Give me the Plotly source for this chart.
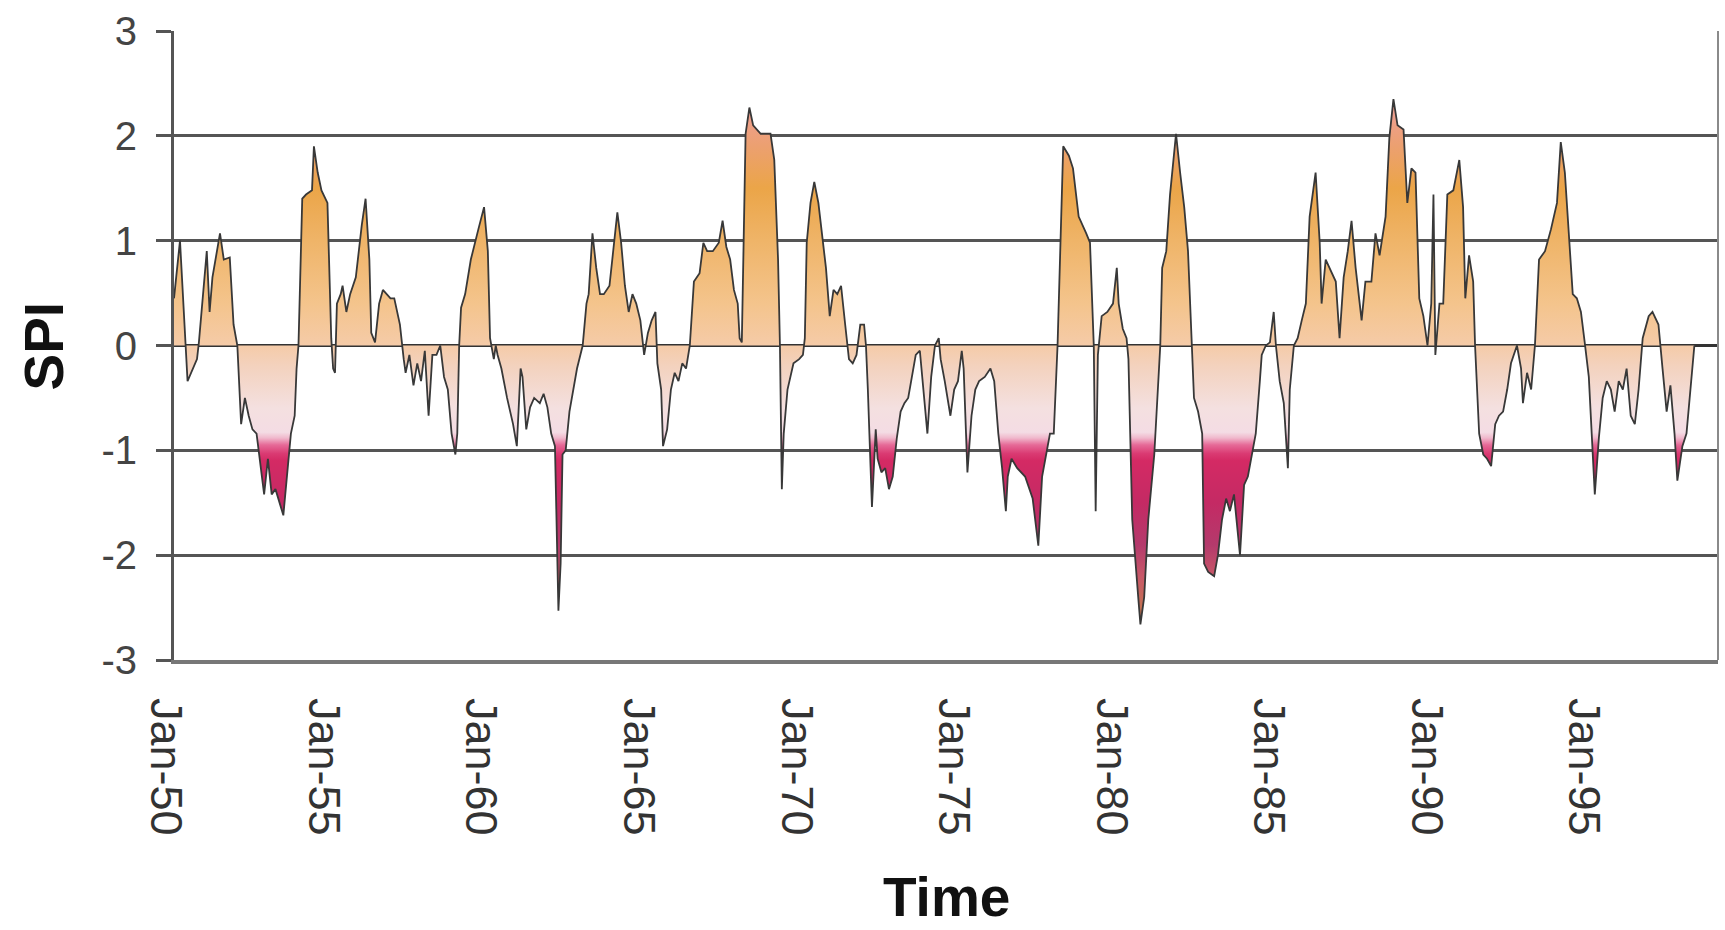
import plotly.graph_objects as go

# Time (decimal years) and SPI values
years = [
    1950.00, 1950.19, 1950.43, 1950.55, 1950.73, 1950.79, 1951.04, 1951.13, 1951.22, 1951.46,
    1951.58, 1951.77, 1951.89, 1952.01, 1952.07, 1952.13, 1952.25, 1952.37, 1952.49, 1952.62,
    1952.86, 1952.98, 1953.10, 1953.22, 1953.47, 1953.59, 1953.71, 1953.83, 1953.89, 1953.95,
    1954.07, 1954.19, 1954.38, 1954.44, 1954.56, 1954.68, 1954.87, 1954.99, 1955.05, 1955.11,
    1955.17, 1955.29, 1955.35, 1955.47, 1955.59, 1955.77, 1955.96, 1956.08, 1956.20, 1956.26,
    1956.38, 1956.51, 1956.63, 1956.75, 1956.87, 1956.99, 1957.17, 1957.29, 1957.35, 1957.47,
    1957.60, 1957.72, 1957.84, 1957.96, 1958.08, 1958.20, 1958.33, 1958.45, 1958.57, 1958.69,
    1958.81, 1958.93, 1958.99, 1959.05, 1959.11, 1959.24, 1959.42, 1959.66, 1959.84, 1959.96,
    1960.03, 1960.15, 1960.21, 1960.27, 1960.39, 1960.57, 1960.76, 1960.88, 1961.00, 1961.06,
    1961.18, 1961.30, 1961.43, 1961.61, 1961.73, 1961.85, 1961.97, 1962.09, 1962.14, 1962.20,
    1962.27, 1962.33, 1962.43, 1962.55, 1962.79, 1962.97, 1963.09, 1963.16, 1963.28, 1963.40,
    1963.52, 1963.64, 1963.82, 1964.07, 1964.19, 1964.31, 1964.43, 1964.55, 1964.67, 1964.80,
    1964.92, 1965.04, 1965.16, 1965.28, 1965.34, 1965.46, 1965.52, 1965.65, 1965.77, 1965.89,
    1966.01, 1966.13, 1966.25, 1966.37, 1966.50, 1966.68, 1966.80, 1966.92, 1967.10, 1967.29,
    1967.41, 1967.53, 1967.65, 1967.77, 1967.89, 1967.95, 1968.02, 1968.14, 1968.26, 1968.38,
    1968.50, 1968.62, 1968.93, 1969.05, 1969.17, 1969.23, 1969.29, 1969.35, 1969.47, 1969.66,
    1969.84, 1969.96, 1970.02, 1970.08, 1970.20, 1970.32, 1970.45, 1970.57, 1970.69, 1970.81,
    1970.93, 1971.05, 1971.17, 1971.30, 1971.42, 1971.54, 1971.66, 1971.78, 1971.90, 1971.96,
    1972.02, 1972.15, 1972.27, 1972.33, 1972.45, 1972.57, 1972.69, 1972.81, 1972.94, 1973.06,
    1973.18, 1973.30, 1973.42, 1973.54, 1973.67, 1973.79, 1973.91, 1974.03, 1974.15, 1974.27,
    1974.33, 1974.46, 1974.64, 1974.76, 1974.88, 1975.00, 1975.06, 1975.18, 1975.31, 1975.43,
    1975.55, 1975.73, 1975.91, 1976.03, 1976.16, 1976.28, 1976.40, 1976.46, 1976.58, 1976.76,
    1977.01, 1977.25, 1977.43, 1977.55, 1977.67, 1977.80, 1977.92, 1978.04, 1978.22, 1978.40,
    1978.53, 1978.71, 1978.95, 1979.07, 1979.19, 1979.25, 1979.32, 1979.44, 1979.62, 1979.80,
    1979.92, 1979.98, 1980.11, 1980.23, 1980.29, 1980.35, 1980.41, 1980.60, 1980.67, 1980.79,
    1980.92, 1981.11, 1981.23, 1981.30, 1981.36, 1981.49, 1981.61, 1981.80, 1981.93, 1982.06,
    1982.18, 1982.31, 1982.37, 1982.50, 1982.63, 1982.69, 1982.82, 1983.01, 1983.13, 1983.26,
    1983.39, 1983.51, 1983.64, 1983.83, 1983.96, 1984.08, 1984.21, 1984.33, 1984.46, 1984.52,
    1984.65, 1984.78, 1984.90, 1984.97, 1985.09, 1985.22, 1985.35, 1985.41, 1985.54, 1985.66,
    1985.79, 1985.92, 1986.04, 1986.23, 1986.36, 1986.42, 1986.55, 1986.68, 1986.87, 1986.99,
    1987.12, 1987.25, 1987.37, 1987.50, 1987.69, 1987.81, 1988.00, 1988.13, 1988.26, 1988.45,
    1988.57, 1988.70, 1988.83, 1989.02, 1989.14, 1989.27, 1989.40, 1989.52, 1989.65, 1989.78,
    1989.90, 1989.97, 1990.03, 1990.16, 1990.28, 1990.41, 1990.60, 1990.79, 1990.91, 1990.98,
    1991.10, 1991.23, 1991.29, 1991.42, 1991.55, 1991.67, 1991.80, 1991.93, 1992.05, 1992.18,
    1992.31, 1992.43, 1992.62, 1992.75, 1992.81, 1992.94, 1993.07, 1993.19, 1993.32, 1993.51,
    1993.70, 1993.89, 1994.01, 1994.14, 1994.27, 1994.39, 1994.52, 1994.65, 1994.77, 1994.90,
    1995.09, 1995.22, 1995.34, 1995.47, 1995.60, 1995.72, 1995.85, 1995.98, 1996.10, 1996.23,
    1996.36, 1996.48, 1996.61, 1996.80, 1996.92, 1997.11, 1997.24, 1997.37, 1997.49, 1997.62,
    1997.71, 1997.87, 1998.00, 1998.13, 1998.25,
]

spi = [
    0.45, 1.00, -0.34, -0.26, -0.13, 0.03, 0.90, 0.32, 0.65, 1.07,
    0.82, 0.84, 0.20, 0.00, -0.42, -0.75, -0.50, -0.67, -0.80, -0.84,
    -1.42, -1.08, -1.42, -1.37, -1.62, -1.25, -0.84, -0.67, -0.22, 0.00,
    1.40, 1.44, 1.48, 1.90, 1.65, 1.48, 1.36, 0.07, -0.22, -0.26,
    0.40, 0.49, 0.57, 0.32, 0.49, 0.65, 1.15, 1.40, 0.82, 0.12,
    0.03, 0.40, 0.53, 0.49, 0.45, 0.45, 0.20, -0.13, -0.26, -0.09,
    -0.38, -0.17, -0.34, -0.05, -0.67, -0.09, -0.09, 0.00, -0.30, -0.42,
    -0.84, -1.04, -0.84, 0.00, 0.36, 0.49, 0.82, 1.11, 1.32, 0.90,
    0.07, -0.13, 0.00, -0.09, -0.22, -0.50, -0.75, -0.96, -0.22, -0.30,
    -0.80, -0.59, -0.50, -0.55, -0.46, -0.59, -0.84, -0.96, -1.70, -2.53,
    -2.08, -1.04, -1.00, -0.63, -0.22, 0.00, 0.40, 0.49, 1.07, 0.74,
    0.49, 0.49, 0.57, 1.27, 0.98, 0.57, 0.32, 0.49, 0.40, 0.24,
    -0.09, 0.12, 0.24, 0.32, -0.17, -0.42, -0.96, -0.80, -0.42, -0.26,
    -0.34, -0.17, -0.22, 0.00, 0.61, 0.69, 0.98, 0.90, 0.90, 0.98,
    1.19, 0.94, 0.82, 0.53, 0.40, 0.07, 0.03, 2.02, 2.27, 2.10,
    2.06, 2.02, 2.02, 1.77, 0.82, 0.00, -1.37, -0.84, -0.42, -0.17,
    -0.13, -0.09, 0.07, 0.98, 1.36, 1.56, 1.36, 1.03, 0.74, 0.28,
    0.53, 0.49, 0.57, 0.20, -0.13, -0.17, -0.09, 0.20, 0.20, 0.00,
    -0.42, -1.54, -0.80, -1.08, -1.21, -1.17, -1.37, -1.25, -0.88, -0.63,
    -0.55, -0.50, -0.30, -0.09, -0.05, -0.42, -0.84, -0.30, 0.00, 0.07,
    -0.13, -0.34, -0.67, -0.42, -0.34, -0.05, -0.22, -1.21, -0.67, -0.42,
    -0.34, -0.30, -0.22, -0.34, -0.84, -1.17, -1.58, -1.25, -1.08, -1.17,
    -1.25, -1.46, -1.91, -1.25, -1.04, -0.84, -0.84, 0.00, 1.90, 1.81,
    1.69, 1.23, 1.07, 0.98, 0.00, -1.58, -0.09, 0.28, 0.32, 0.40,
    0.74, 0.40, 0.16, 0.07, -0.13, -0.84, -1.66, -2.40, -2.66, -2.40,
    -1.66, -1.04, -0.42, 0.00, 0.74, 0.90, 1.44, 2.02, 1.65, 1.32,
    0.90, 0.00, -0.50, -0.63, -0.84, -2.08, -2.16, -2.20, -2.00, -1.66,
    -1.46, -1.58, -1.42, -2.00, -1.33, -1.25, -1.04, -0.84, -0.34, -0.09,
    0.00, 0.03, 0.32, 0.00, -0.34, -0.55, -1.17, -0.42, 0.00, 0.07,
    0.24, 0.40, 1.23, 1.65, 0.98, 0.40, 0.82, 0.74, 0.61, 0.07,
    0.65, 0.90, 1.19, 0.74, 0.24, 0.61, 0.61, 1.07, 0.86, 1.23,
    1.98, 2.35, 2.10, 2.06, 1.36, 1.69, 1.65, 0.45, 0.28, 0.00,
    0.40, 1.44, -0.09, 0.40, 0.40, 1.44, 1.48, 1.77, 1.32, 0.45,
    0.86, 0.61, 0.00, -0.84, -1.04, -1.08, -1.15, -0.75, -0.67, -0.63,
    -0.42, -0.17, 0.00, -0.22, -0.55, -0.26, -0.42, 0.00, 0.82, 0.90,
    1.11, 1.36, 1.94, 1.65, 1.03, 0.49, 0.45, 0.32, 0.03, -0.30,
    -1.42, -0.88, -0.50, -0.34, -0.42, -0.63, -0.34, -0.42, -0.22, -0.67,
    -0.75, -0.42, 0.07, 0.28, 0.32, 0.20, -0.22, -0.63, -0.38, -0.84,
    -1.29, -0.96, -0.84, -0.42, 0.00,
]

tick_years = [1950, 1955, 1960, 1965, 1970, 1975, 1980, 1985, 1990, 1995]
tick_labels = ["Jan-50", "Jan-55", "Jan-60", "Jan-65", "Jan-70",
               "Jan-75", "Jan-80", "Jan-85", "Jan-90", "Jan-95"]
y_ticks = [-3, -2, -1, 0, 1, 2, 3]
y_labels = ["-3", "-2", "-1", "0", "1", "2", "3"]

FONT = "Liberation Sans, Arial, sans-serif"

fill_scale = [
    [0.000, "#A86A3A"],
    [0.083, "#C47052"],
    [0.133, "#C85868"],
    [0.183, "#B43A6C"],
    [0.250, "#C42A64"],
    [0.317, "#D42A64"],
    [0.328, "#DA3A72"],
    [0.342, "#E66A98"],
    [0.353, "#F0B8CC"],
    [0.362, "#F4DCE4"],
    [0.400, "#F4E0E0"],
    [0.467, "#F3D2BE"],
    [0.500, "#F5CBA8"],
    [0.567, "#F4C48C"],
    [0.667, "#EFB468"],
    [0.750, "#EBA548"],
    [0.817, "#ECA070"],
    [0.867, "#EE9F8E"],
    [1.000, "#EEA090"],
]

fig = go.Figure()
fig.add_trace(go.Scatter(
    x=years, y=spi, mode="lines",
    line=dict(color="#383838", width=1.8),
    fill="tozeroy",
    fillgradient=dict(type="vertical", colorscale=fill_scale, start=-3, stop=3),
    showlegend=False, hoverinfo="x+y",
))

fig.update_layout(
    width=1725, height=930,
    margin=dict(l=174, r=7, t=31, b=270),
    paper_bgcolor="white", plot_bgcolor="white",
    font=dict(family=FONT, color="#333333"),
    xaxis=dict(
        range=[1950, 1999], tickvals=tick_years, ticktext=tick_labels,
        tickangle=90, tickfont=dict(size=45, color="#333333"),
        showgrid=False, zeroline=False, ticks="",
        showline=True, linecolor="#777777", linewidth=4,
        ticklabelstandoff=25, ticklabelshift=-8,
    ),
    yaxis=dict(
        range=[-3, 3], tickvals=y_ticks, ticktext=y_labels,
        tickfont=dict(size=40, color="#444444"),
        showgrid=True, gridcolor="#555555", gridwidth=3,
        zeroline=True, zerolinecolor="#333333", zerolinewidth=3,
        showline=True, linecolor="#555555", linewidth=3,
        ticks="outside", ticklen=15, tickwidth=3, tickcolor="#555555",
        ticklabelstandoff=11,
    ),
    shapes=[dict(type="line", xref="paper", yref="paper", x0=1, x1=1, y0=0, y1=1,
                 line=dict(color="#8a8a8a", width=2))],
    annotations=[
        dict(text="<b>SPI</b>", xref="paper", yref="paper", x=-0.0842, y=0.5,
             xanchor="center", yanchor="middle", textangle=-90, showarrow=False,
             font=dict(size=55, color="#111111", family=FONT)),
        dict(text="<b>Time</b>", xref="paper", yref="paper", x=0.5, y=-0.377,
             xanchor="center", yanchor="middle", showarrow=False,
             font=dict(size=55, color="#111111", family=FONT)),
    ],
)

fig.write_html("out.html",
               config={"displayModeBar": False},
               post_script="document.body.style.margin='0px';document.body.style.overflow='hidden';")
